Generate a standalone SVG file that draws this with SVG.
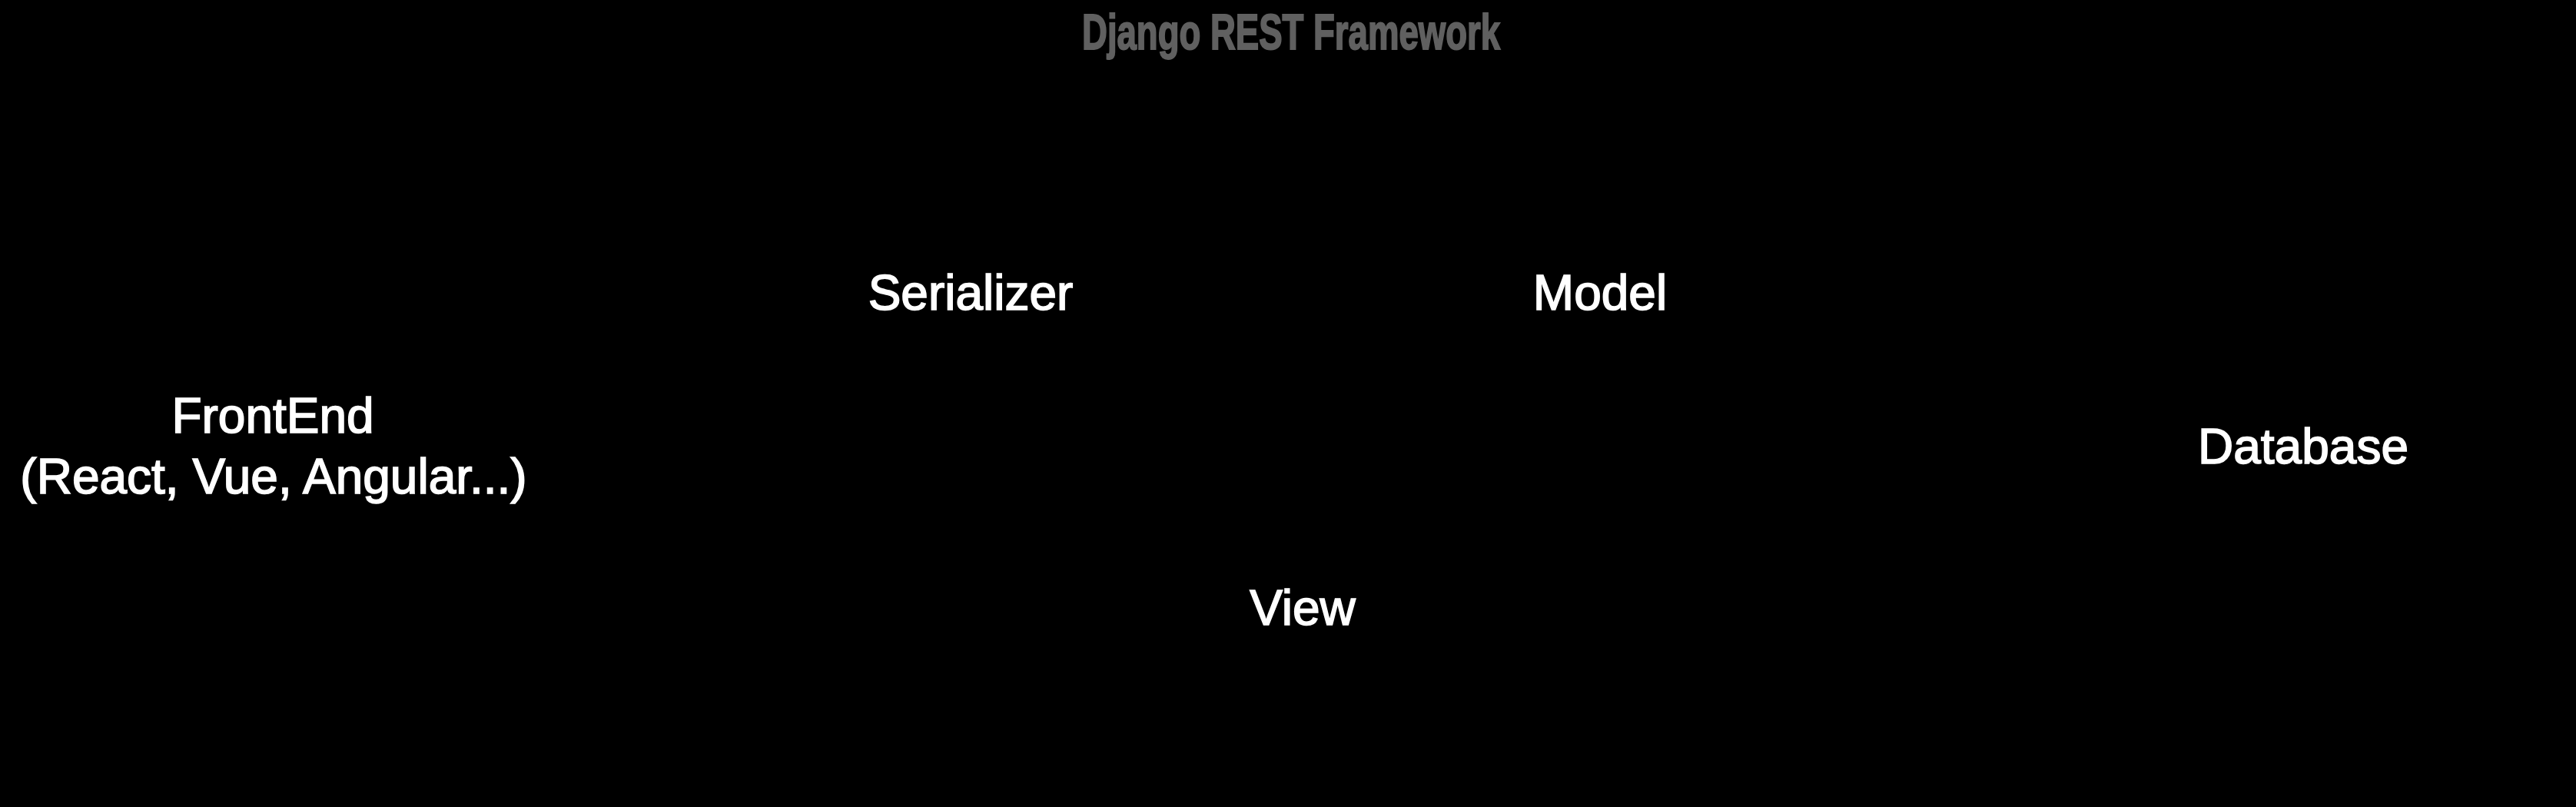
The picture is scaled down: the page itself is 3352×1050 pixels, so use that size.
<svg xmlns="http://www.w3.org/2000/svg" width="3352" height="1050" viewBox="0 0 3352 1050">
<style>
.bg{fill:#000000}
.lbl{font-family:"Liberation Sans",Arial,Helvetica,sans-serif;font-size:64px;fill:#ffffff;stroke:#ffffff;stroke-width:1.6px;text-anchor:middle}
.title{font-family:"Liberation Sans",Arial,Helvetica,sans-serif;font-size:64px;font-weight:bold;fill:#606060;stroke:#606060;stroke-width:2px;text-anchor:middle}
</style>
<rect class="bg" x="0" y="0" width="3352" height="1050"/>
<g id="title">
<text class="title" x="1680" y="64" textLength="544" lengthAdjust="spacingAndGlyphs">Django REST Framework</text>
</g>
<g id="connectors"></g>
<g id="frontend">
<text class="lbl" x="355" y="563">FrontEnd</text>
<text class="lbl" x="356" y="642">(React, Vue, Angular...)</text>
</g>
<g id="serializer">
<text class="lbl" x="1263" y="403">Serializer</text>
</g>
<g id="model">
<text class="lbl" x="2082" y="403">Model</text>
</g>
<g id="view">
<text class="lbl" x="1695" y="813">View</text>
</g>
<g id="database">
<text class="lbl" x="2997" y="603">Database</text>
</g>
</svg>
